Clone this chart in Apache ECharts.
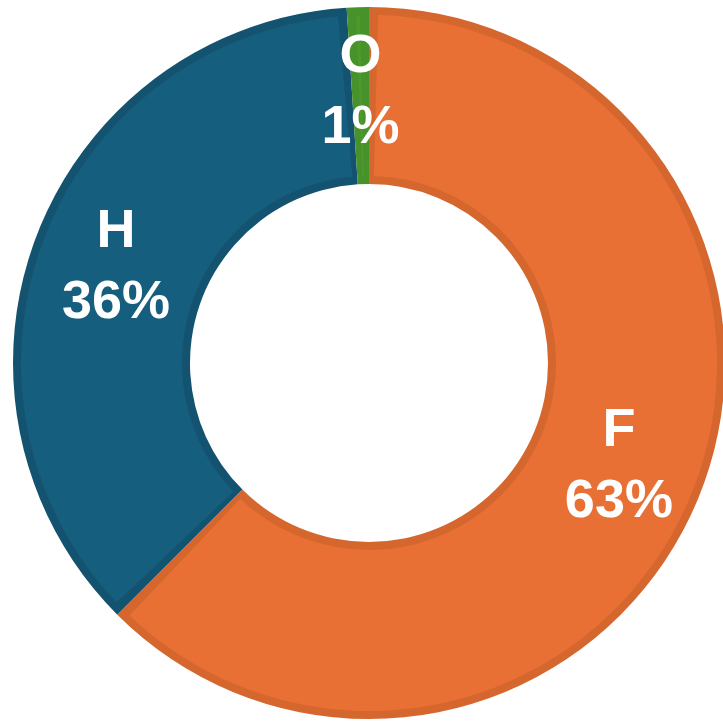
<!DOCTYPE html>
<html>
<head>
<meta charset="utf-8">
<script src="https://cdn.jsdelivr.net/npm/echarts@6/dist/echarts.min.js"></script>
<style>
html,body{margin:0;padding:0;background:#fff;}
#chart{width:723px;height:722px;}
</style>
</head>
<body>
<div id="chart"></div>
<script>
const categories = ['F', 'H', 'O'];
const values = [62.5, 36.5, 1.0];
const fillColors = ['#E87035', '#165E7D', '#4B9A2B'];
const edgeColors = ['#D5672E', '#135370', '#47922A'];

const chart = echarts.init(document.getElementById('chart'), null, {renderer: 'canvas'});

const baseData = categories.map((c, i) => ({name: c, value: values[i], itemStyle: {color: edgeColors[i]}}));
const topData = categories.map((c, i) => ({name: c, value: values[i], itemStyle: {color: fillColors[i]}}));

const labelFont = 'Liberation Sans, Arial, sans-serif';

chart.setOption({
  animation: false,
  series: [
    {
      type: 'pie',
      silent: true,
      center: [369, 363],
      radius: [179, 356],
      startAngle: 90,
      clockwise: true,
      avoidLabelOverlap: false,
      label: {show: false},
      labelLine: {show: false},
      data: baseData
    },
    {
      type: 'pie',
      silent: true,
      center: [369, 363],
      radius: [187, 348],
      startAngle: 90,
      clockwise: true,
      padAngle: 3,
      percentPrecision: 0,
      avoidLabelOverlap: false,
      label: {
        show: true,
        position: 'inside',
        formatter: '{n|{b}}\n{p|{d}%}',
        rich: {
          n: {color: '#fff', fontSize: 54, fontWeight: 'bold', fontFamily: labelFont, lineHeight: 71, align: 'center'},
          p: {color: '#fff', fontSize: 54, fontWeight: 'bold', fontFamily: labelFont, lineHeight: 71, align: 'center'}
        }
      },
      labelLine: {show: false},
      data: topData
    }
  ]
});
</script>
</body>
</html>
